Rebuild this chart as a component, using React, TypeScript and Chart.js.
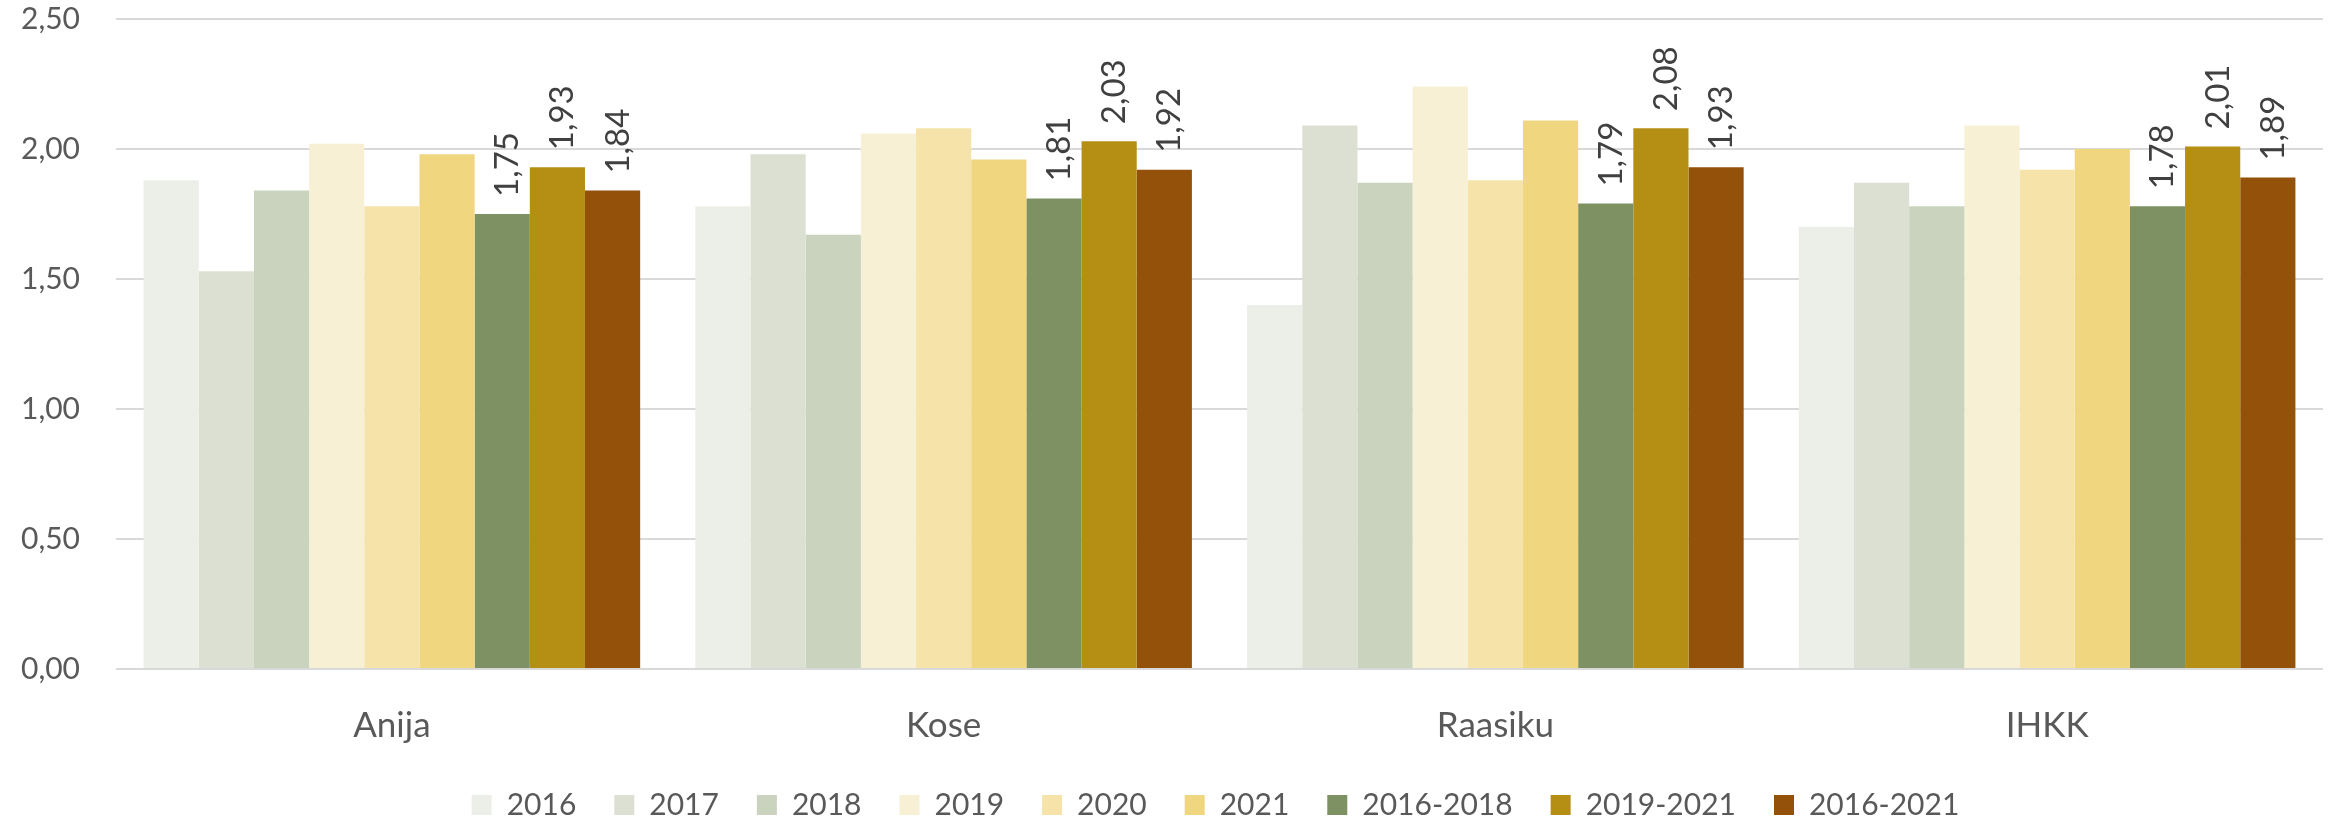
import React, { useEffect, useRef } from 'react';
import { Chart, registerables } from 'chart.js';

Chart.register(...registerables);

const categories = ['Anija', 'Kose', 'Raasiku', 'IHKK'];
const seriesNames = ['2016', '2017', '2018', '2019', '2020', '2021', '2016-2018', '2019-2021', '2016-2021'];

const v2016 = [1.88, 1.78, 1.40, 1.70];
const v2017 = [1.53, 1.98, 2.09, 1.87];
const v2018 = [1.84, 1.67, 1.87, 1.78];
const v2019 = [2.02, 2.06, 2.24, 2.09];
const v2020 = [1.78, 2.08, 1.88, 1.92];
const v2021 = [1.98, 1.96, 2.11, 2.00];
const v2016to2018 = [1.75, 1.81, 1.79, 1.78];
const v2019to2021 = [1.93, 2.03, 2.08, 2.01];
const v2016to2021 = [1.84, 1.92, 1.93, 1.89];

const seriesValues = [v2016, v2017, v2018, v2019, v2020, v2021, v2016to2018, v2019to2021, v2016to2021];
const seriesColors = ['#ECEFE8', '#DBE0D2', '#CAD3BD', '#F7F0D4', '#F5E3A9', '#F0D67E', '#7D9163', '#B58F14', '#93510A'];
const labeledSeries = ['2016-2018', '2019-2021', '2016-2021'];

const yMin = 0;
const yMax = 2.5;
const yStep = 0.5;

const fmt = (v: number) => v.toFixed(2).replace('.', ',');

const valueLabelPlugin = {
  id: 'valueLabels',
  afterDatasetsDraw(chart: any) {
    const ctx = chart.ctx;
    ctx.save();
    ctx.font = '33px Lato';
    ctx.fillStyle = '#404040';
    ctx.textAlign = 'left';
    ctx.textBaseline = 'alphabetic';
    chart.data.datasets.forEach((ds: any, di: number) => {
      if (!labeledSeries.includes(ds.label)) return;
      const meta = chart.getDatasetMeta(di);
      meta.data.forEach((bar: any, i: number) => {
        ctx.save();
        ctx.translate(bar.x + 16, bar.y - 17);
        ctx.rotate(-Math.PI / 2);
        ctx.fillText(fmt(ds.data[i]), 0, 0);
        ctx.restore();
      });
    });
    ctx.restore();
  },
};

const legendShiftPlugin = {
  id: 'legendShift',
  afterLayout(chart: any) {
    if (chart.legend) {
      chart.legend.left += 54;
      chart.legend.right += 54;
    }
  },
};

export default function App() {
  const canvasRef = useRef<HTMLCanvasElement | null>(null);

  useEffect(() => {
    if (!canvasRef.current) return;
    const chart = new Chart(canvasRef.current, {
      type: 'bar',
      data: {
        labels: categories,
        datasets: seriesNames.map((name, i) => ({
          label: name,
          data: seriesValues[i],
          backgroundColor: seriesColors[i],
          borderWidth: 0,
          categoryPercentage: 0.9,
          barPercentage: 1,
        })),
      },
      options: {
        responsive: false,
        animation: false,
        devicePixelRatio: 1,
        layout: { padding: { left: 0, right: 10, top: 19, bottom: -6 } },
        plugins: {
          legend: {
            position: 'bottom',
            labels: {
              boxWidth: 20,
              boxHeight: 20,
              padding: 38,
              color: '#595959',
              font: { family: 'Lato', size: 30 },
            },
          },
          tooltip: { enabled: false },
          title: { display: false },
        },
        scales: {
          x: {
            grid: { display: false },
            border: { display: false },
            ticks: {
              color: '#595959',
              font: { family: 'Lato', size: 35 },
              padding: 28,
            },
            afterFit: (s: any) => {
              s.height = 83;
            },
          },
          y: {
            min: yMin,
            max: yMax,
            grid: {
              color: '#D9D9D9',
              lineWidth: 2,
              drawTicks: true,
              tickLength: 36,
              tickColor: 'rgba(0,0,0,0)',
            },
            border: { display: false },
            ticks: {
              stepSize: yStep,
              color: '#595959',
              font: { family: 'Lato', size: 30 },
              padding: 0,
              callback: (v: any) => fmt(Number(v)),
            },
            afterFit: (s: any) => {
              s.width = 116;
            },
          },
        },
      },
      plugins: [valueLabelPlugin, legendShiftPlugin],
    });
    return () => chart.destroy();
  }, []);

  return (
    <div style={{ position: 'absolute', left: 0, top: 0, width: 2333, height: 824, background: '#fff' }}>
      <canvas ref={canvasRef} width={2333} height={824} style={{ display: 'block' }} />
    </div>
  );
}
